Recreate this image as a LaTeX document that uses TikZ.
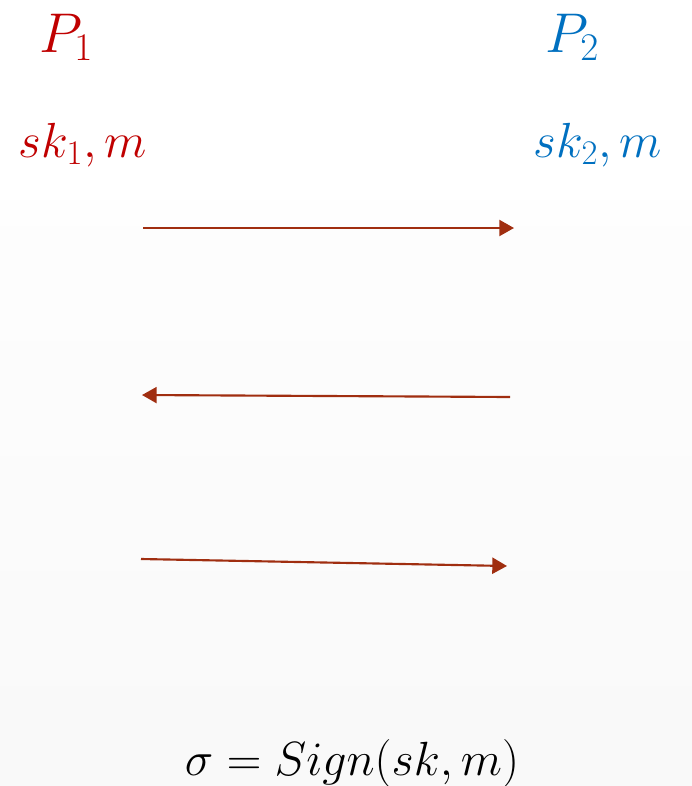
\RequirePackage{fix-cm}
\documentclass[tikz,border=0pt]{standalone}
\usepackage{amsmath, amssymb}
\usepackage{tikz}
\usetikzlibrary{arrows.meta}

\definecolor{pone}{RGB}{192,0,0}
\definecolor{ptwo}{RGB}{0,112,192}
\definecolor{msg}{RGB}{160,46,16}

\tikzset{
  party/.style={anchor=base, inner sep=0pt, font=\fontsize{42}{46}\selectfont},
  secret/.style={anchor=base, inner sep=0pt, font=\fontsize{37}{40}\selectfont},
  msgarrow/.style={msg, line width=1.6pt, -{Triangle[length=11pt, width=12pt]}}
}

\begin{document}
\begin{tikzpicture}[x=0.75pt, y=-0.75pt]
% background: white top, faint grey towards the bottom
\fill[white] (0,0) rectangle (692,200);
\shade[top color=gray!1, bottom color=gray!5] (0,200) rectangle (692,786);
\useasboundingbox (0,0) rectangle (692,786);

% the two parties and their inputs
\node[party, pone] (p1) at (66,52) {$P_1$};
\node[party, ptwo] (p2) at (572,52) {$P_2$};
\node[secret, pone] (in1) at (83,157) {$sk_1, m$};
\node[secret, ptwo] (in2) at (598,157) {$sk_2, m$};

% message rounds
\coordinate (r1a) at (143,228);
\coordinate (r1b) at (514,228);
\coordinate (r2a) at (510,397);
\coordinate (r2b) at (142,395);
\coordinate (r3a) at (141,559);
\coordinate (r3b) at (507,566);
\draw[msgarrow] (r1a) -- (r1b);
\draw[msgarrow] (r2a) -- (r2b);
\draw[msgarrow] (r3a) -- (r3b);

% output
\node[secret, black, font=\fontsize{36}{40}\selectfont] (sig) at (352,775) {$\sigma = Sign(sk, m)$};
\end{tikzpicture}
\end{document}
